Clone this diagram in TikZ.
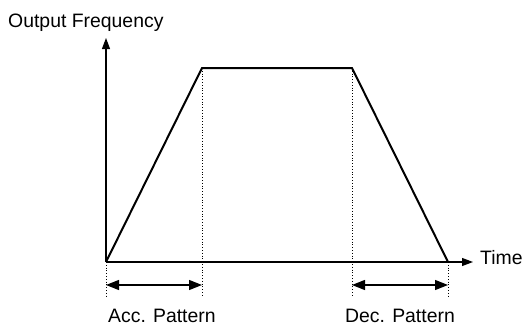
\documentclass[tikz,border=0pt]{standalone}
\usepackage{fontspec}
\setmainfont{Liberation Sans}
\usetikzlibrary{arrows.meta}
\tikzset{
  lbl/.style={inner sep=0pt, anchor=base west, font=\fontsize{19.4}{23}\selectfont},
  axisline/.style={line width=1.1pt, -{Triangle[length=11pt,width=8pt]}},
  curve/.style={line width=2pt, line join=miter},
  guide/.style={line width=0.8pt, dotted},
  span/.style={line width=1.3pt, {Triangle[length=13pt,width=10pt]}-{Triangle[length=13pt,width=10pt]}}
}
\begin{document}
\begin{tikzpicture}[x=1pt,y=-1pt]
\useasboundingbox (0,0) rectangle (525,330);
\coordinate (O) at (106,262);
\coordinate (Ytip) at (106,38);
\coordinate (Xtip) at (473,262);
\coordinate (A) at (202,68);
\coordinate (B) at (352,68);
\coordinate (C) at (448,262);
\coordinate (O2) at (106,297);
\coordinate (A2) at (202,297);
\coordinate (B2) at (352,297);
\coordinate (C2) at (448,297);
\coordinate (L1) at (106,285);
\coordinate (R1) at (202,285);
\coordinate (L2) at (352,285);
\coordinate (R2) at (448,285);

\node[lbl] (yl) at (8,27) {Output Frequency};
\node[lbl] (xl) at (480,264) {Time};
\node[lbl] (acc) at (108,322) {Acc. Pattern};
\node[lbl] (dec) at (345,322) {Dec. Pattern};

\draw[guide] (O) -- (O2);
\draw[guide] (A) -- (A2);
\draw[guide] (B) -- (B2);
\draw[guide] (C) -- (C2);

\draw[axisline] (O) -- (Ytip);
\draw[axisline] (O) -- (Xtip);
\draw[curve] (O) -- (A) -- (B) -- (C);

\draw[span] (L1) -- (R1);
\draw[span] (L2) -- (R2);
\end{tikzpicture}
\end{document}
